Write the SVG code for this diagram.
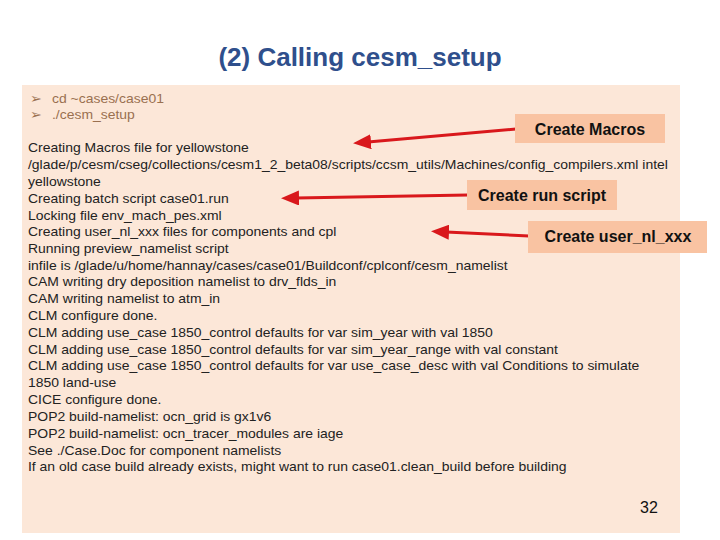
<svg xmlns="http://www.w3.org/2000/svg" width="720" height="540" viewBox="0 0 720 540">
<defs>
<style>
.t{font-family:"Liberation Sans",Arial,sans-serif;font-size:12.8px;fill:#222}
.h{font-family:"Liberation Sans",Arial,sans-serif;font-size:12.8px;fill:#9a7050}
.lb{font-family:"Liberation Sans",Arial,sans-serif;font-size:16px;fill:#111;font-weight:bold}
.box{fill:#f9c3a2}
.ar{stroke:#d9181c;stroke-width:3;fill:none;marker-end:url(#a)}
</style>
<marker id="a" markerWidth="6" markerHeight="5" refX="1" refY="2.5" orient="auto" markerUnits="strokeWidth"><path d="M6,0 L0,2.5 L6,5 Z" fill="#d9181c" transform="rotate(180 3 2.5)"/></marker>
</defs>
<rect width="720" height="540" fill="#fff"/>
<rect x="22" y="85" width="658" height="448" fill="#fce7d8"/>
<text x="360" y="66" text-anchor="middle" font-family="Liberation Sans,Arial,sans-serif" font-size="26" font-weight="bold" fill="#2f4f8c">(2) Calling cesm_setup</text>
<g id="header" transform="translate(28,0) scale(1.09,1) translate(-28,0)">
<text class="h" x="30" y="103">➢</text><text class="h" x="50" y="103">cd ~cases/case01</text>
<text class="h" x="30" y="119">➢</text><text class="h" x="50" y="119">./cesm_setup</text>
</g>
<g id="output" transform="translate(28,0) scale(1.09,1) translate(-28,0)">
<text class="t" x="28" y="152">Creating Macros file for yellowstone</text>
<text class="t" x="28" y="169">/glade/p/cesm/cseg/collections/cesm1_2_beta08/scripts/ccsm_utils/Machines/config_compilers.xml intel</text>
<text class="t" x="28" y="186">yellowstone</text>
<text class="t" x="28" y="203">Creating batch script case01.run</text>
<text class="t" x="28" y="220">Locking file env_mach_pes.xml</text>
<text class="t" x="28" y="236">Creating user_nl_xxx files for components and cpl</text>
<text class="t" x="28" y="253">Running preview_namelist script</text>
<text class="t" x="28" y="270"> infile is /glade/u/home/hannay/cases/case01/Buildconf/cplconf/cesm_namelist</text>
<text class="t" x="28" y="286">CAM writing dry deposition namelist to drv_flds_in</text>
<text class="t" x="28" y="303">CAM writing namelist to atm_in</text>
<text class="t" x="28" y="320">CLM configure done.</text>
<text class="t" x="28" y="337">CLM adding use_case 1850_control defaults for var sim_year with val 1850</text>
<text class="t" x="28" y="354">CLM adding use_case 1850_control defaults for var sim_year_range with val constant</text>
<text class="t" x="28" y="370">CLM adding use_case 1850_control defaults for var use_case_desc with val Conditions to simulate</text>
<text class="t" x="28" y="387">1850 land-use</text>
<text class="t" x="28" y="404">CICE configure done.</text>
<text class="t" x="28" y="421">POP2 build-namelist: ocn_grid is gx1v6</text>
<text class="t" x="28" y="438">POP2 build-namelist: ocn_tracer_modules are  iage</text>
<text class="t" x="28" y="455">See ./Case.Doc for component namelists</text>
<text class="t" x="28" y="471">If an old case build already exists, might want to run case01.clean_build before building</text>
</g>
<g id="connectors">
<path class="ar" d="M516,129 L368,142"/>
<path class="ar" d="M468,195 L296,198"/>
<path class="ar" d="M529,236 L446,232"/>
</g>
<g id="n1"><rect class="box" x="515" y="114" width="150" height="29"/><text class="lb" x="590" y="135" text-anchor="middle">Create Macros</text></g>
<g id="n2"><rect class="box" x="467" y="180" width="150" height="30"/><text class="lb" x="542" y="201" text-anchor="middle">Create run script</text></g>
<g id="n3"><rect class="box" x="528" y="221" width="179" height="32"/><text class="lb" x="618" y="242" text-anchor="middle">Create user_nl_xxx</text></g>
<text x="649" y="513" text-anchor="middle" font-family="Liberation Sans,Arial,sans-serif" font-size="16" fill="#111">32</text>
</svg>
